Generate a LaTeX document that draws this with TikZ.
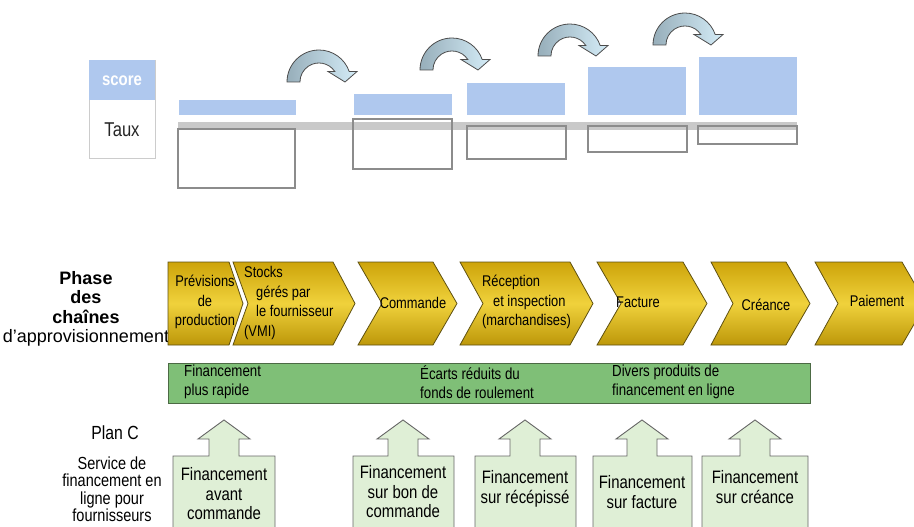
\documentclass[tikz,border=0pt]{standalone}
\usepackage{fontspec}
\setmainfont{Liberation Sans}
\newfontfamily\narrowfont[FakeStretch=0.83]{Liberation Sans}

\definecolor{scoreblue}{HTML}{AFC8EE}
\definecolor{bandgray}{HTML}{C9C9C9}
\definecolor{boxgray}{HTML}{8C8C8C}
\definecolor{golddark}{HTML}{CDA40A}
\definecolor{goldlight}{HTML}{F0D23C}
\definecolor{goldedge}{HTML}{5E5010}
\definecolor{leafgreen}{HTML}{7FBF77}
\definecolor{leafedge}{HTML}{4C6A44}
\definecolor{palegreen}{HTML}{DFEFD6}
\definecolor{arrowdark}{HTML}{97AEBA}
\definecolor{arrowlight}{HTML}{D4ECF7}

\tikzset{
  phase/.style={top color=golddark, bottom color=golddark!92!black, middle color=goldlight, draw=goldedge, line width=0.8pt},
  phasetext/.style={font=\narrowfont\fontsize{15.5}{19.5}\selectfont, inner sep=0pt},
  bartext/.style={font=\narrowfont\fontsize{16}{19}\selectfont, align=left, anchor=west, inner sep=0pt},
  upbox/.style={fill=palegreen, draw=black!60, line width=0.9pt},
  boxtext/.style={font=\narrowfont\fontsize{18}{19.5}\selectfont, align=center, inner sep=0pt},
  hop/.style={left color=arrowdark, right color=arrowlight, draw=black!70, line width=0.8pt},
  ratebox/.style={draw=boxgray, line width=1.1pt}
}

\begin{document}
\begin{tikzpicture}[x=1pt, y=-1pt]
\useasboundingbox (0,0) rectangle (914,527);
\clip (0,0) rectangle (914,527);

% Legend score / taux
\draw[draw=black!20, fill=white] (89,60) rectangle (155,158);
\fill[scoreblue] (89,60) rectangle (155,100);
\node[font=\narrowfont\bfseries\fontsize{18}{20}\selectfont, text=white] (score) at (122,81) {score};
\node[font=\narrowfont\fontsize{20}{22}\selectfont, text=black!85] (taux) at (122,130) {Taux};

% Grey band and rate bars
\fill[bandgray] (178,122) rectangle (797,130);
\foreach \xa/\xb/\ya in {179/296/100, 354/452/94, 467/565/83, 588/686/67, 699/797/57} {
  \fill[scoreblue] (\xa,\ya) rectangle (\xb,115);
}
\draw[ratebox] (178,129) rectangle (295,188);
\draw[ratebox] (353,119) rectangle (452,169);
\draw[ratebox] (467,126) rectangle (566,159);
\draw[ratebox] (588,126) rectangle (687,152);
\draw[ratebox] (698,126) rectangle (797,144);

% Curved arrows between bars
\foreach \cx/\cy in {319/82, 452/70, 570/56, 685/45} {
  \begin{scope}[shift={(\cx,\cy)}, yscale=-1]
    \draw[hop] (-32,0) arc[start angle=180, end angle=19.15, radius=32]
      -- (38,10.5) -- (26,0) -- (9,10.5) -- (15.8,10.5)
      arc[start angle=33.5, end angle=180, radius=19] -- cycle;
  \end{scope}
}

% Supply chain phases
\node[font=\fontsize{18}{19.5}\selectfont, align=center, inner sep=0pt] (phase) at (86,309)
  {\textbf{Phase}\\\textbf{des}\\\textbf{chaînes}\\d'approvisionnement};
\foreach \a/\b/\n/\p in {168/229/0/14, 233/333/15/22, 358/433/24/24, 460/570/23/23, 597/683/24/24, 711/786/22/24, 815/902/23/24} {
  \draw[phase] (\a,262) -- (\b,262) -- ({\b+\p},303.5) -- (\b,345) -- (\a,345) -- ({\a+\n},303.5) -- cycle;
}
\node[phasetext, align=center] (prev) at (205,302) {Prévisions\\de\\production};
\node[phasetext, align=left, anchor=west] (vmi) at (244,303) {Stocks\\\hspace*{12pt}gérés par\\\hspace*{12pt}le fournisseur\\(VMI)};
\node[phasetext] (cmd) at (413,303) {Commande};
\node[phasetext, align=left, anchor=west] (recep) at (482,302) {Réception\\\hspace*{11pt}et inspection\\(marchandises)};
\node[phasetext] (fact) at (638,302) {Facture};
\node[phasetext] (creance) at (766,305) {Créance};
\node[phasetext] (paie) at (877,301) {Paiement};

% Benefits bar
\draw[fill=leafgreen, draw=leafedge, line width=1pt] (168,363) rectangle (810,403);
\node[bartext] (rapide) at (184,382) {Financement\\plus rapide};
\node[bartext] (ecarts) at (420,382) {Écarts réduits du\\fonds de roulement};
\node[bartext] (divers) at (612,382) {Divers produits de\\financement en ligne};

% Plan C services
\node[font=\narrowfont\fontsize{19}{21}\selectfont] (planc) at (115,433) {Plan C};
\node[font=\narrowfont\fontsize{17.5}{17.5}\selectfont, align=center, inner sep=0pt] (service) at (112,489)
  {Service de\\financement en\\ligne pour\\fournisseurs};
\foreach \xa/\xb/\c in {173/275/224, 353/454/403, 475/576/525, 593/692/642, 702/808/755} {
  \draw[upbox] (\xa,540) -- (\xa,456) -- (\c-15,456) -- (\c-15,439) -- (\c-26,439) -- (\c,420)
    -- (\c+26,439) -- (\c+15,439) -- (\c+15,456) -- (\xb,456) -- (\xb,540);
}
\node[boxtext] (avant) at (224,494) {Financement\\avant\\commande};
\node[boxtext] (bon) at (403,492) {Financement\\sur bon de\\commande};
\node[boxtext] (recepisse) at (525,489) {Financement\\sur récépissé};
\node[boxtext] (surfact) at (642,492) {Financement\\sur facture};
\node[boxtext] (surcreance) at (755,487) {Financement\\sur créance};
\end{tikzpicture}
\end{document}
